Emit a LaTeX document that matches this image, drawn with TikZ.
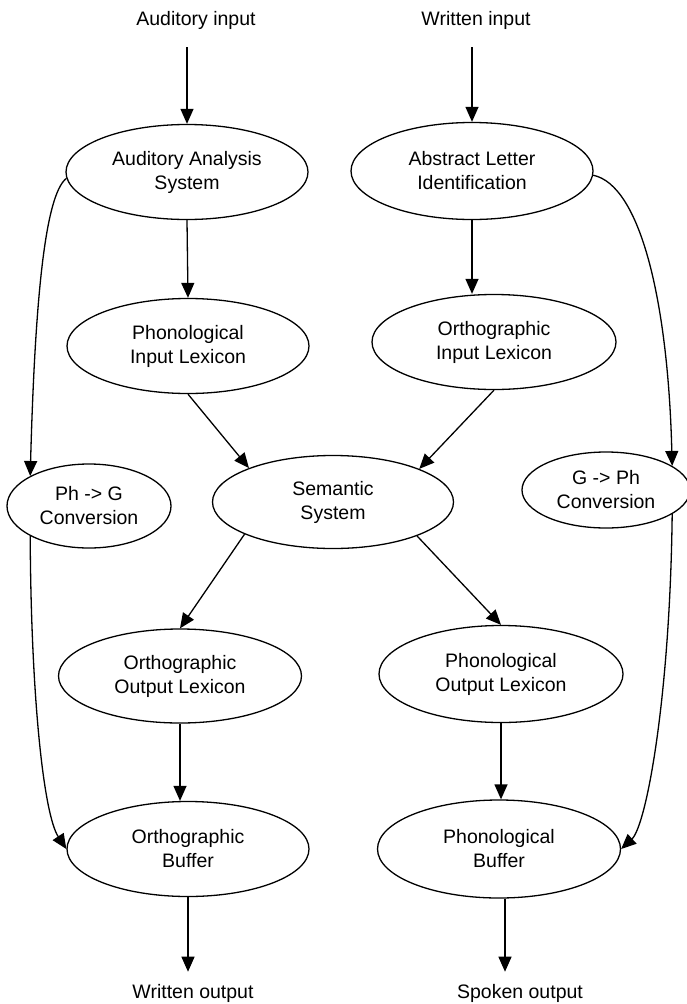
\documentclass[tikz,border=0pt]{standalone}
\usepackage{fontspec}
\setmainfont{Liberation Sans}
\usetikzlibrary{shapes.geometric,arrows.meta}
\begin{document}
\begin{tikzpicture}[x=1pt,y=1pt,
  txt/.style={font=\fontsize{19.5}{24}\selectfont},
  box/.style={ellipse,draw,line width=1.3pt,inner sep=0pt,
    minimum width=242pt,minimum height=95pt,align=center,txt},
  conv/.style={minimum width=166pt,minimum height=80pt},
  io/.style={inner sep=0pt,txt},
  arr/.style={line width=1.3pt,-{Triangle[length=15pt,width=13pt]}}]
\useasboundingbox (0,0) rectangle (687,-1004);

% inputs and outputs
\node[io] (ain)  at (196,-20)  {Auditory input};
\node[io] (win)  at (476,-20)  {Written input};
\node[io] (wout) at (193,-993) {Written output};
\node[io] (sout) at (520,-993) {Spoken output};

% processing modules
\node[box] (aas) at (187,-172) {Auditory Analysis\\System};
\node[box,minimum height=97pt] (ali) at (472,-171) {Abstract Letter\\Identification};
\node[box] (pil) at (188,-346) {Phonological\\Input Lexicon};
\node[box,minimum width=244pt] (oil) at (494,-342) {Orthographic\\Input Lexicon};
\node[box,conv,minimum width=164pt,minimum height=84pt] (phg) at (89,-506) {Ph -> G\\Conversion};
\node[box,minimum width=241pt,minimum height=93pt] (sem) at (333,-502) {Semantic\\System};
\node[box,conv,minimum width=168pt,minimum height=76pt] (gph) at (606,-490) {G -> Ph\\Conversion};
\node[box,minimum width=243pt,minimum height=94pt] (ool) at (180,-676) {Orthographic\\Output Lexicon};
\node[box,minimum width=244pt,minimum height=97pt] (pol) at (501,-674) {Phonological\\Output Lexicon};
\node[box] (ob) at (188,-849) {Orthographic\\Buffer};
\node[box,minimum width=243pt,minimum height=98pt] (pb) at (499,-849) {Phonological\\Buffer};

% input arrows
\draw[arr] ([yshift=-18pt]ain.south -| aas.north) -- (aas.north);
\draw[arr] ([yshift=-18pt]win.south -| ali.north) -- (ali.north);

% lexical routes
\draw[arr] (aas.south) -- (pil.north);
\draw[arr] (ali.south) -- (ali.south |- oil.north);
\draw[arr] (pil.south) -- (sem.158);
\draw[arr] (oil.south) -- (sem.21);
\draw[arr] (sem.200) -- (ool.north);
\draw[arr] (sem.-22) -- (pol.north);
\draw[arr] (ool.south) -- (ool.south |- ob.north);
\draw[arr] (pol.south) -- (pol.south |- pb.north);

% sublexical conversion routes
\draw[arr] (aas.183) .. controls (45,-195) and (35,-300) .. (phg.153);
\draw[arr] (phg.207) .. controls (31,-700) and (44,-815) .. (ob.west);
\draw[arr] (ali.-2) .. controls (640,-185) and (668,-300) .. (gph.20);
\draw[arr] (gph.-20) .. controls (670,-700) and (646,-826) .. (pb.east);

% output arrows
\coordinate (pbout) at ([xshift=6pt]pb.south);
\draw[arr] (ob.south) -- ([yshift=12pt]wout.north -| ob.south);
\draw[arr] (pbout) -- ([yshift=12pt]sout.north -| pbout);
\end{tikzpicture}
\end{document}
